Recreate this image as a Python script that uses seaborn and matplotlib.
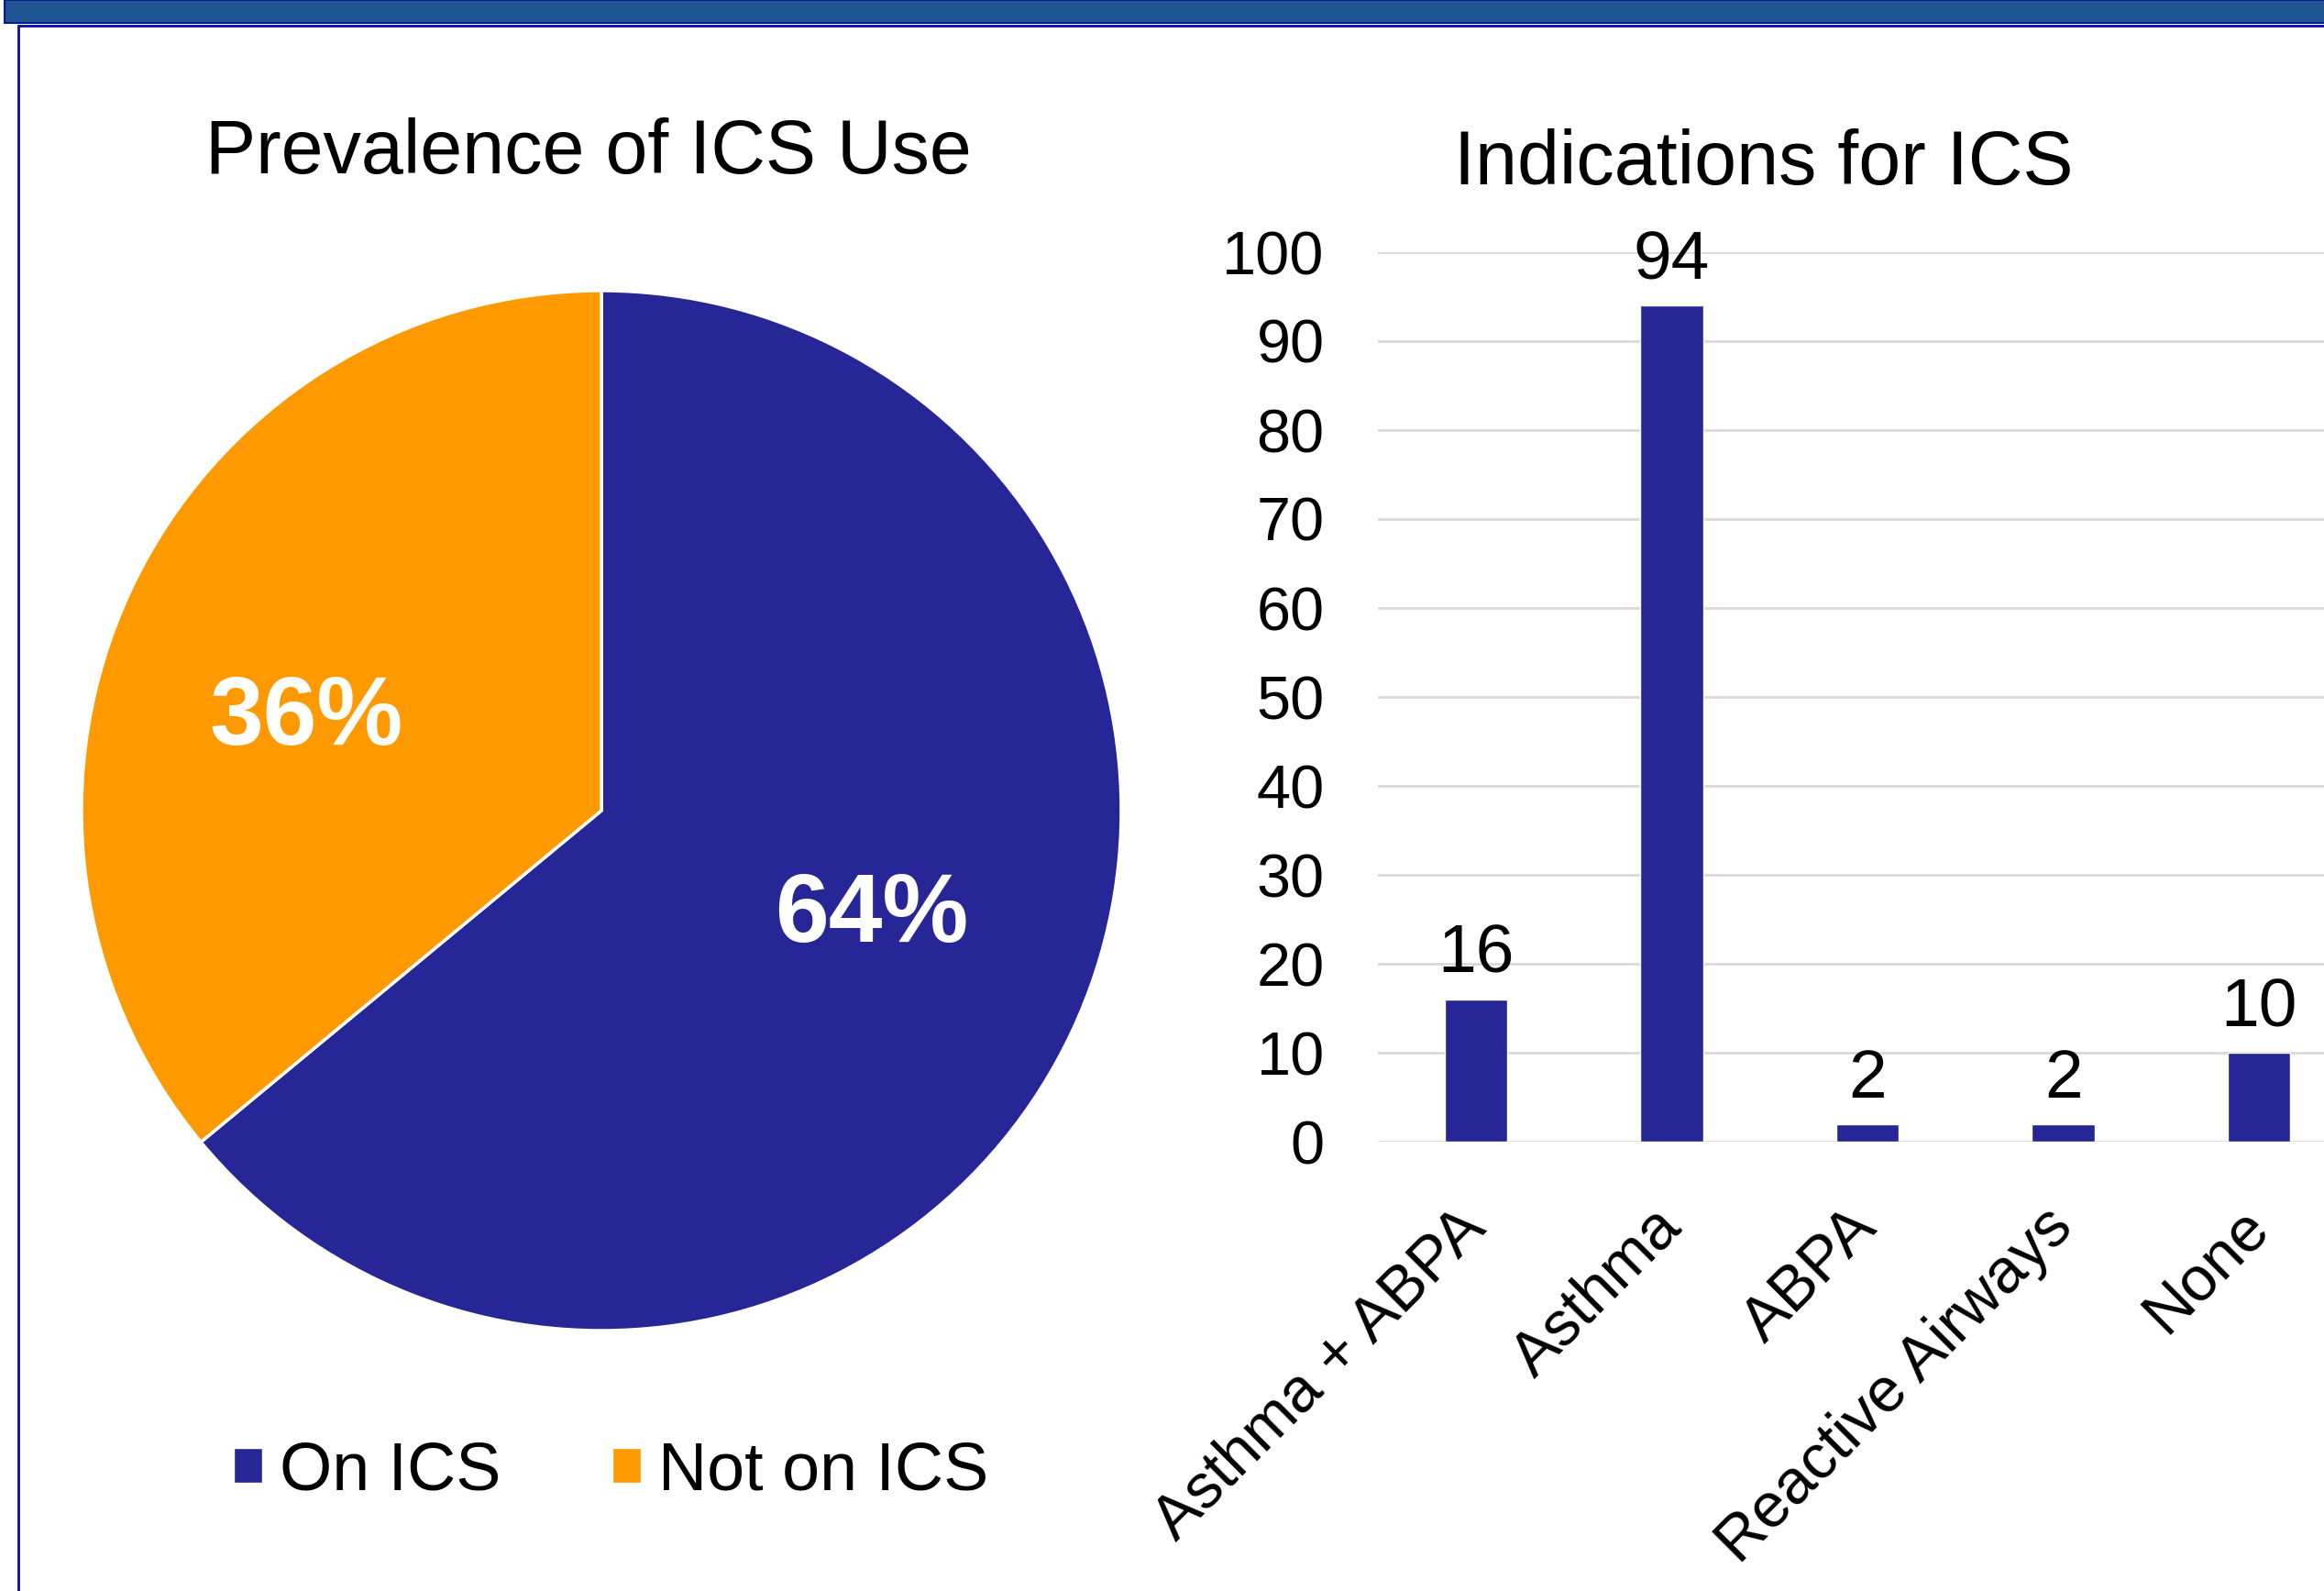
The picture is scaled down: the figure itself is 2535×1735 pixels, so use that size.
import matplotlib
matplotlib.use("Agg")
import numpy as np
import matplotlib.pyplot as plt
from matplotlib.patches import Rectangle, Patch
import seaborn as sns

# data
pie_labels = ["On ICS", "Not on ICS"]
pie_values = [64, 36]
bar_categories = ["Asthma + ABPA", "Asthma", "ABPA", "Reactive Airways", "None"]
bar_values = [16, 94, 2, 2, 10]
y_ticks = [0, 10, 20, 30, 40, 50, 60, 70, 80, 90, 100]

NAVY = "#262696"
ORANGE = "#FF9900"
W, H = 2535, 1735

sns.set_style("white")
plt.rcParams["font.family"] = ["Liberation Sans", "DejaVu Sans"]
for key in ["text.color", "axes.labelcolor", "xtick.color", "ytick.color"]:
    plt.rcParams[key] = "black"

fig = plt.figure(figsize=(W / 100, H / 100), dpi=100)

# slide header banner and frame
fig.patches.append(Rectangle((5 / W, 1 - 25 / H), 1, 25 / H, transform=fig.transFigure,
                             facecolor="#1F5493", edgecolor="#0A1A8C", linewidth=1.5, zorder=0))
fig.patches.append(Rectangle((20 / W, -0.1), 1.2, 1 - 28 / H + 0.1, transform=fig.transFigure,
                             facecolor="none", edgecolor="#0A0AAA", linewidth=2, zorder=0))

# pie
ax_pie = fig.add_axes([(656 - 567) / W, 1 - (884 + 567) / H, 1134 / W, 1134 / H])
wedges, _, autotexts = ax_pie.pie(pie_values, colors=[NAVY, ORANGE], startangle=90, counterclock=False,
                                  autopct="%d%%",
                                  wedgeprops=dict(edgecolor="white", linewidth=2.5),
                                  textprops=dict(color="white", fontsize=76, fontweight="bold"))
# excel-like label placement: a little counter-clockwise of the wedge middle
for w, t in zip(wedges, autotexts):
    ang = np.deg2rad((w.theta1 + w.theta2) / 2 + 6)
    t.set_position((0.575 * np.cos(ang) - 0.024, 0.575 * np.sin(ang) - 0.014))
ax_pie.set_xlim(-1, 1)
ax_pie.set_ylim(-1, 1)
fig.text(642 / W, 1 - 167 / H, "Prevalence of ICS Use", ha="center", va="center", fontsize=59.5)

handles = [Patch(facecolor=NAVY), Patch(facecolor=ORANGE)]
fig.legend(handles, pie_labels, loc="center", bbox_to_anchor=(667 / W, 1 - 1605 / H), ncol=2,
           frameon=False, fontsize=53, handlelength=0.42, handleheight=0.42,
           handletextpad=0.26, columnspacing=1.65)

# bar chart
ax_bar = fig.add_axes([1503 / W, 1 - 1245 / H, 1068 / W, (1245 - 275) / H])
sns.barplot(x=bar_categories, y=bar_values, color=NAVY, width=0.32, saturation=1, ax=ax_bar)
ax_bar.bar_label(ax_bar.containers[0], fontsize=54, padding=10)
ax_bar.set_ylim(0, 100)
ax_bar.set_xlim(-0.5, 4.5)
ax_bar.set_yticks(y_ticks)
ax_bar.grid(axis="y", color="#D9D9D9", linewidth=2)
ax_bar.set_axisbelow(True)
for s in ax_bar.spines.values():
    s.set_visible(False)
ax_bar.tick_params(axis="y", length=0, labelsize=48, pad=42)
ax_bar.tick_params(axis="x", length=0, labelsize=49, pad=60)
plt.setp(ax_bar.get_xticklabels(), rotation=45, ha="right", va="center", rotation_mode="anchor")
ax_bar.set_xlabel("")
ax_bar.set_ylabel("")
fig.text(1924 / W, 1 - 179 / H, "Indications for ICS", ha="center", va="center", fontsize=59.5)

fig.savefig("out.png", dpi=100)
